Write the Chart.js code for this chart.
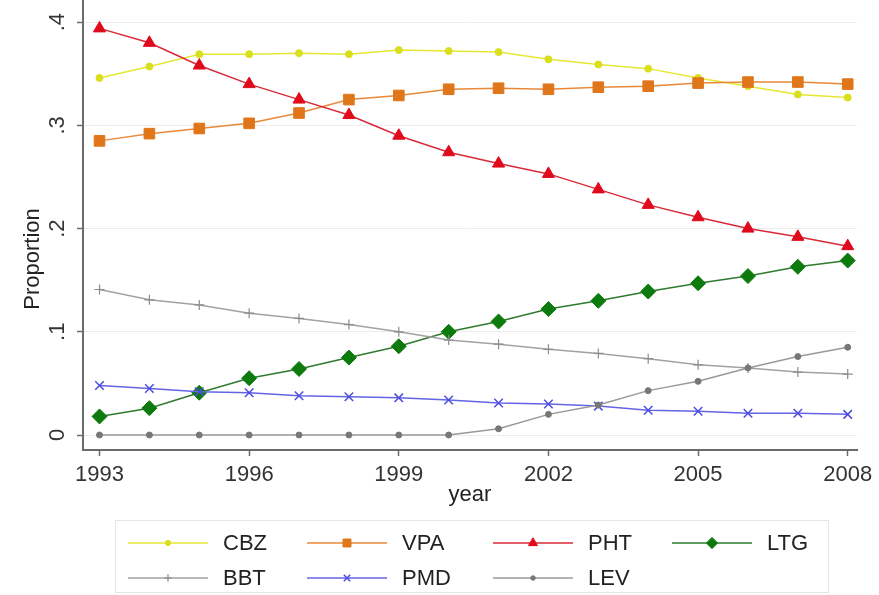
<!DOCTYPE html>
<html><head><meta charset="utf-8">
<script src="https://cdn.jsdelivr.net/npm/chart.js@4/dist/chart.umd.min.js"></script>
<style>html,body{margin:0;padding:0;background:#fff}#wrap{width:879px;height:595px}</style>
</head><body><div id="wrap"><canvas id="c" width="879" height="595"></canvas></div>
<script>
const years = [1993,1994,1995,1996,1997,1998,1999,2000,2001,2002,2003,2004,2005,2006,2007,2008];
const cbz = [.346,.357,.369,.369,.370,.369,.373,.372,.371,.364,.359,.355,.346,.338,.330,.327];
const vpa = [.285,.292,.297,.302,.312,.325,.329,.335,.336,.335,.337,.338,.341,.342,.342,.340];
const pht = [.394,.380,.358,.340,.325,.310,.290,.274,.263,.253,.238,.223,.211,.200,.192,.183];
const ltg = [.018,.026,.041,.055,.064,.075,.086,.100,.110,.122,.130,.139,.147,.154,.163,.169];
const bbt = [.141,.131,.126,.118,.113,.107,.100,.092,.088,.083,.079,.074,.068,.065,.061,.059];
const pmd = [.048,.045,.042,.041,.038,.037,.036,.034,.031,.030,.028,.024,.023,.021,.021,.020];
const lev = [0,0,0,0,0,0,0,0,.006,.020,.029,.043,.052,.065,.076,.085];
const seriesNames = ['CBZ','VPA','PHT','LTG','BBT','PMD','LEV'];
const xTicks = [1993,1996,1999,2002,2005,2008];
const xTickLabels = ['1993','1996','1999','2002','2005','2008'];
const yTicks = [0,0.1,0.2,0.3,0.4];
const yTickLabels = ['0','.1','.2','.3','.4'];
const xTitle = 'year';
const yTitle = 'Proportion';

const FONT = '"Liberation Sans", Arial, sans-serif';
const styles = [
  {line:'#e4e832', pt:'#d9df1c', ps:'circle',   r:3.5, bw:1},
  {line:'#e8893a', pt:'#e0761a', ps:'rect',     r:7.5, bw:1},
  {line:'#d82a38', pt:'#e00a1c', ps:'triangle', r:7,   bw:1},
  {line:'#2f7a2f', pt:'#0d7a0d', ps:'rectRot',  r:7.5, bw:1},
  {line:'#a2a2a2', pt:'#8c8c8c', ps:'cross',    r:5,   bw:1.2},
  {line:'#6464e6', pt:'#4c4ce0', ps:'crossRot', r:6,   bw:1.5},
  {line:'#999999', pt:'#777777', ps:'circle',   r:3,   bw:1}
];
const allVals = [cbz,vpa,pht,ltg,bbt,pmd,lev];
const datasets = allVals.map((vals,i)=>({
  label: seriesNames[i],
  data: years.map((yr,j)=>({x:yr,y:vals[j]})),
  borderColor: styles[i].line,
  backgroundColor: styles[i].pt,
  pointBackgroundColor: styles[i].pt,
  pointBorderColor: styles[i].pt,
  pointStyle: styles[i].ps,
  pointRadius: styles[i].r,
  pointBorderWidth: styles[i].bw,
  borderWidth: 1.5,
  tension: 0,
  order: 7 - i
}));

const annot = {
  id: 'annot',
  afterDraw(chart){
    const ctx = chart.ctx, ca = chart.chartArea;
    ctx.save();
    ctx.fillStyle = '#222';
    ctx.font = '22px ' + FONT;
    ctx.textAlign = 'center';
    ctx.textBaseline = 'alphabetic';
    ctx.fillText(xTitle, (ca.left+ca.right)/2, 501);
    ctx.save();
    ctx.translate(39, 259);
    ctx.rotate(-Math.PI/2);
    ctx.fillText(yTitle, 0, 0);
    ctx.restore();
    // legend
    const bx = 115, by = 520, bw = 713, bh = 72;
    ctx.strokeStyle = '#e6e6e6'; ctx.lineWidth = 1;
    ctx.strokeRect(bx+0.5, by+0.5, bw, bh);
    const colX = [128, 307, 493, 672];
    const rowY = [543, 578];
    chart.data.datasets.forEach((ds,i)=>{
      const cx = colX[i%4], cy = rowY[Math.floor(i/4)];
      ctx.strokeStyle = ds.borderColor; ctx.lineWidth = 1.5;
      ctx.beginPath(); ctx.moveTo(cx, cy); ctx.lineTo(cx+80, cy); ctx.stroke();
      ctx.fillStyle = ds.pointBackgroundColor; ctx.strokeStyle = ds.pointBorderColor;
      ctx.lineWidth = ds.pointBorderWidth;
      Chart.helpers.drawPoint(ctx, {pointStyle: ds.pointStyle, rotation: 0, radius: ds.pointRadius * 0.75, borderWidth: ds.pointBorderWidth}, cx+40, cy);
      ctx.fillStyle = '#222';
      ctx.font = '22px ' + FONT;
      ctx.textAlign = 'left'; ctx.textBaseline = 'middle';
      ctx.fillText(ds.label, cx+95, cy+1);
    });
    ctx.restore();
  }
};

new Chart(document.getElementById('c'), {
  type: 'line',
  data: {datasets},
  options: {
    responsive: false,
    devicePixelRatio: 1,
    animation: false,
    layout: {padding: {left:0, right:22, top:0, bottom:0}, autoPadding: false},
    plugins: {legend: {display:false}, tooltip: {enabled:false}},
    scales: {
      x: {
        type: 'linear', min: 1992.669, max: 2008.186,
        afterBuildTicks: s => { s.ticks = xTicks.map(v=>({value:v})); },
        afterFit: s => { s.height = 145; s.paddingLeft = 0; s.paddingRight = 0; s.paddingTop = 0; s.paddingBottom = 0; },
        ticks: {callback: (v,i)=>xTickLabels[i], autoSkip:false, maxRotation:0, padding:6, color:'#333', font:{family:FONT, size:22}},
        grid: {display:true, drawOnChartArea:false, drawTicks:true, tickLength:6, tickColor:'#6b6b6b', tickWidth:1.5},
        border: {display:true, color:'#6b6b6b', width:2}
      },
      y: {
        type: 'linear', min: -0.01453, max: 0.4215,
        afterBuildTicks: s => { s.ticks = yTicks.map(v=>({value:v})); },
        afterFit: s => { s.width = 83; s.paddingLeft = 0; s.paddingRight = 0; s.paddingTop = 0; s.paddingBottom = 0; },
        ticks: {callback: (v,i)=>yTickLabels[i], minRotation:90, maxRotation:90, crossAlign:'center', padding:10, color:'#333', font:{family:FONT, size:22}},
        grid: {display:true, drawOnChartArea:true, color:'#ececec', lineWidth:1, drawTicks:true, tickLength:6, tickColor:'#6b6b6b', tickWidth:1.5},
        border: {display:true, color:'#6b6b6b', width:2}
      }
    }
  },
  plugins: [annot]
});
</script>
</body></html>
